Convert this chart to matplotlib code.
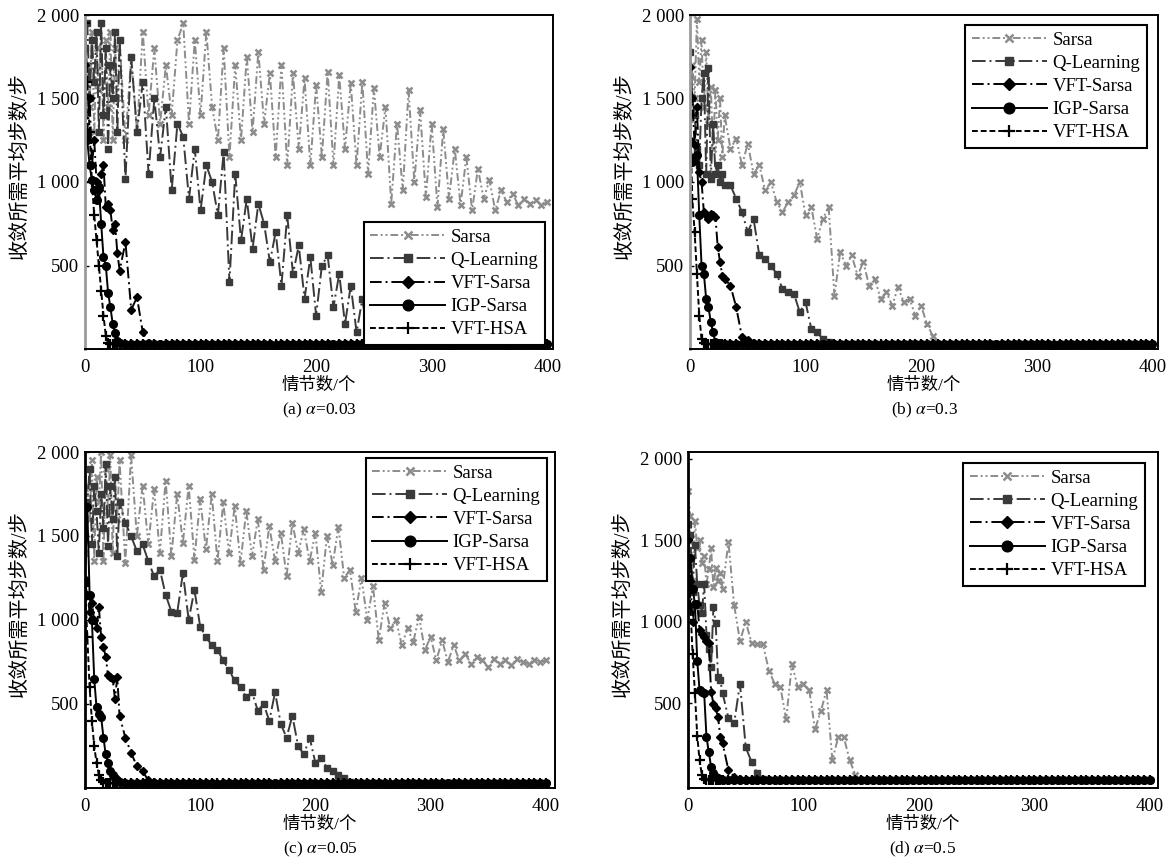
import matplotlib
matplotlib.use("Agg")
import matplotlib.pyplot as plt

plt.rcParams['font.family'] = ['Liberation Serif', 'Noto Sans CJK SC']
plt.rcParams['mathtext.fontset'] = 'stix'

# episodes: every 2 up to 30, then every 5
EP = list(range(0, 31, 2)) + list(range(35, 401, 5))

# ---- (a) alpha = 0.03
sarsa_a = [1300, 1700, 1450, 1900, 1300, 1800, 1550, 1950, 1250, 1850, 1450, 1900, 1250, 1800, 1500, 1850,
           1250, 1750, 1300, 1900, 1400, 1800, 1350, 1700, 1400, 1850,
           1950, 1350, 1850, 1400, 1900, 1450, 1250, 1800, 1150, 1700,
           1250, 1750, 1300, 1780, 1350, 1650, 1150, 1700, 1100, 1650,
           1200, 1620, 1100, 1580, 1150, 1660, 1100, 1640, 1200, 1590,
           1100, 1600, 1050, 1560, 1150, 1450, 870, 1350, 950, 1550,
           1000, 1430, 910, 1350, 850, 1320, 900, 1200, 860, 1150,
           830, 1080, 900, 1010, 830, 950, 880, 930, 860, 900,
           870, 890, 860, 880]
qlearn_a = [1800, 1950, 1500, 1850, 1600, 1900, 1300, 1950, 1400, 1800, 1200, 1700, 1500, 1900, 1300, 1850,
            1020, 1750, 1300, 1600, 1050, 1500, 1150, 1450, 950, 1350,
            1270, 900, 1200, 830, 1100, 1000, 800, 1180, 400, 1050,
            650, 900, 600, 870, 750, 520, 700, 380, 800, 450,
            620, 300, 550, 200, 500, 560, 250, 450, 150, 380,
            100, 300, 60, 150, 40, 120, 30, 60, 30, 29,
            30, 27, 29, 31, 28, 30, 26, 29, 32, 28,
            29, 31, 27, 30, 28, 32, 29, 27, 30, 29,
            29, 27, 30, 28]
vft_sarsa_a = [1700, 1300, 1500, 1100, 1250, 1000, 950, 1050, 1100, 850, 870, 830, 710, 750, 575, 470,
               640, 235, 310, 100, 35, 30, 27, 29, 30, 28,
               29, 31, 27, 30, 28, 32, 29, 27, 30, 29,
               28, 30, 32, 27, 29, 31, 28, 30, 27, 31,
               30, 27, 29, 31, 28, 30, 26, 29, 32, 28,
               29, 31, 27, 30, 28, 32, 29, 27, 30, 29,
               28, 30, 32, 27, 29, 31, 28, 30, 27, 31,
               30, 27, 29, 31, 28, 30, 26, 29, 32, 28,
               29, 27, 30, 28]
igp_a = [1270, 1250, 1100, 1010, 950, 890, 970, 750, 550, 500, 335, 250, 150, 95, 50, 35,
         31, 29, 27, 30, 28, 32, 29, 27, 30, 28,
         28, 30, 32, 27, 29, 31, 28, 30, 27, 31,
         30, 27, 29, 31, 28, 30, 26, 29, 32, 28,
         29, 31, 27, 30, 28, 32, 29, 27, 30, 29,
         28, 30, 32, 27, 29, 31, 28, 30, 27, 31,
         30, 27, 29, 31, 28, 30, 26, 29, 32, 28,
         29, 31, 27, 30, 28, 32, 29, 27, 30, 29,
         29, 27, 30, 28]
vft_hsa_a = [1950, 1600, 1300, 1000, 800, 650, 500, 350, 200, 80, 35, 30, 28, 29, 27, 30,
             30, 27, 29, 31, 28, 30, 26, 29, 32, 28,
             29, 31, 27, 30, 28, 32, 29, 27, 30, 29,
             28, 30, 32, 27, 29, 31, 28, 30, 27, 31,
             30, 27, 29, 31, 28, 30, 26, 29, 32, 28,
             29, 31, 27, 30, 28, 32, 29, 27, 30, 29,
             28, 30, 32, 27, 29, 31, 28, 30, 27, 31,
             30, 27, 29, 31, 28, 30, 26, 29, 32, 28,
             29, 27, 30, 28]

# ---- (b) alpha = 0.3
sarsa_b = [1380, 1700, 1500, 1975, 1600, 1850, 1450, 1780, 1350, 1570, 1200, 1550, 1250, 1500, 1150, 1400,
           1200, 1260, 1100, 1230, 1050, 1100, 950, 1000, 880, 820,
           880, 920, 1000, 800, 850, 660, 780, 850, 320, 580,
           500, 560, 440, 520, 380, 420, 300, 340, 260, 370,
           280, 300, 200, 260, 150, 80, 30, 29, 31, 28,
           30, 27, 29, 31, 28, 30, 26, 29, 32, 28,
           29, 31, 27, 30, 28, 32, 29, 27, 30, 29,
           28, 30, 32, 27, 29, 31, 28, 30, 27, 31,
           29, 27, 30, 28]
qlearn_b = [1780, 1500, 1400, 1200, 1100, 1500, 1650, 1050, 1680, 1020, 1350, 1050, 1100, 1000, 1050, 980,
            980, 900, 820, 700, 780, 560, 540, 500, 450, 360,
            340, 330, 220, 280, 120, 100, 60, 40, 30, 29,
            28, 30, 32, 27, 29, 31, 28, 30, 27, 31,
            30, 27, 29, 31, 28, 30, 26, 29, 32, 28,
            29, 31, 27, 30, 28, 32, 29, 27, 30, 29,
            28, 30, 32, 27, 29, 31, 28, 30, 27, 31,
            30, 27, 29, 31, 28, 30, 26, 29, 32, 28,
            29, 27, 30, 28]
vft_sarsa_b = [1690, 1500, 1220, 1450, 1060, 1000, 820, 800, 780, 810, 800, 790, 610, 520, 440, 420,
               380, 250, 70, 55, 35, 30, 29, 30, 28, 30,
               30, 27, 29, 31, 28, 30, 26, 29, 32, 28,
               29, 31, 27, 30, 28, 32, 29, 27, 30, 29,
               28, 30, 32, 27, 29, 31, 28, 30, 27, 31,
               30, 27, 29, 31, 28, 30, 26, 29, 32, 28,
               29, 31, 27, 30, 28, 32, 29, 27, 30, 29,
               28, 30, 32, 27, 29, 31, 28, 30, 27, 31,
               29, 27, 30, 28]
igp_b = [1245, 1120, 1150, 1160, 800, 500, 450, 300, 250, 160, 100, 40, 30, 29, 31, 28,
         29, 31, 27, 30, 28, 32, 29, 27, 30, 29,
         28, 30, 32, 27, 29, 31, 28, 30, 27, 31,
         30, 27, 29, 31, 28, 30, 26, 29, 32, 28,
         29, 31, 27, 30, 28, 32, 29, 27, 30, 29,
         28, 30, 32, 27, 29, 31, 28, 30, 27, 31,
         30, 27, 29, 31, 28, 30, 26, 29, 32, 28,
         29, 31, 27, 30, 28, 32, 29, 27, 30, 29,
         29, 27, 30, 28]
vft_hsa_b = [1400, 900, 700, 450, 200, 60, 35, 30, 28, 29, 27, 30, 29, 28, 31, 29,
             28, 30, 32, 27, 29, 31, 28, 30, 27, 31,
             30, 27, 29, 31, 28, 30, 26, 29, 32, 28,
             29, 31, 27, 30, 28, 32, 29, 27, 30, 29,
             28, 30, 32, 27, 29, 31, 28, 30, 27, 31,
             30, 27, 29, 31, 28, 30, 26, 29, 32, 28,
             29, 31, 27, 30, 28, 32, 29, 27, 30, 29,
             28, 30, 32, 27, 29, 31, 28, 30, 27, 31,
             29, 27, 30, 28]

# ---- (c) alpha = 0.05
sarsa_c = [1400, 1800, 1600, 1950, 1350, 1850, 1700, 2000, 1350, 1900, 1650, 1980, 1400, 1850, 1600, 1950,
           1340, 1980, 1500, 1800, 1450, 1780, 1400, 1830, 1380, 1750,
           1460, 1800, 1360, 1720, 1420, 1750, 1350, 1700, 1400, 1680,
           1340, 1650, 1380, 1600, 1300, 1560, 1350, 1520, 1260, 1580,
           1400, 1540, 1350, 1520, 1165, 1500, 1330, 1555, 1250, 1300,
           1050, 1250, 1000, 1200, 880, 1100, 950, 1000, 850, 950,
           870, 1020, 820, 900, 760, 880, 750, 850, 760, 800,
           740, 780, 760, 720, 770, 740, 760, 730, 770, 750,
           740, 760, 750, 760]
qlearn_c = [1500, 1700, 1900, 1450, 1800, 1650, 1400, 1750, 1550, 1930, 1440, 1800, 1600, 1850, 1380, 1700,
            1580, 1500, 1410, 1450, 1350, 1260, 1300, 1150, 1050, 1040,
            1280, 1000, 1180, 960, 900, 850, 820, 760, 700, 640,
            600, 540, 570, 460, 500, 400, 570, 380, 300, 430,
            250, 200, 300, 150, 180, 120, 100, 80, 60, 35,
            30, 27, 29, 31, 28, 30, 26, 29, 32, 28,
            29, 31, 27, 30, 28, 32, 29, 27, 30, 29,
            28, 30, 32, 27, 29, 31, 28, 30, 27, 31,
            29, 27, 30, 28]
vft_sarsa_c = [1220, 1150, 1050, 1100, 1000, 950, 1080, 900, 840, 780, 670, 660, 650, 530, 660, 430,
               300, 210, 130, 100, 45, 35, 30, 29, 31, 28,
               29, 31, 27, 30, 28, 32, 29, 27, 30, 29,
               28, 30, 32, 27, 29, 31, 28, 30, 27, 31,
               30, 27, 29, 31, 28, 30, 26, 29, 32, 28,
               29, 31, 27, 30, 28, 32, 29, 27, 30, 29,
               28, 30, 32, 27, 29, 31, 28, 30, 27, 31,
               30, 27, 29, 31, 28, 30, 26, 29, 32, 28,
               29, 27, 30, 28]
igp_c = [1240, 1670, 1150, 1000, 650, 480, 440, 425, 300, 200, 150, 100, 80, 60, 45, 35,
         31, 29, 30, 28, 27, 30, 29, 31, 28, 30,
         30, 27, 29, 31, 28, 30, 26, 29, 32, 28,
         29, 31, 27, 30, 28, 32, 29, 27, 30, 29,
         28, 30, 32, 27, 29, 31, 28, 30, 27, 31,
         30, 27, 29, 31, 28, 30, 26, 29, 32, 28,
         29, 31, 27, 30, 28, 32, 29, 27, 30, 29,
         28, 30, 32, 27, 29, 31, 28, 30, 27, 31,
         29, 27, 30, 28]
vft_hsa_c = [1200, 900, 600, 400, 250, 150, 80, 45, 35, 30, 28, 29, 27, 30, 29, 28,
             29, 31, 27, 30, 28, 32, 29, 27, 30, 29,
             28, 30, 32, 27, 29, 31, 28, 30, 27, 31,
             30, 27, 29, 31, 28, 30, 26, 29, 32, 28,
             29, 31, 27, 30, 28, 32, 29, 27, 30, 29,
             28, 30, 32, 27, 29, 31, 28, 30, 27, 31,
             30, 27, 29, 31, 28, 30, 26, 29, 32, 28,
             29, 31, 27, 30, 28, 32, 29, 27, 30, 29,
             29, 27, 30, 28]

# ---- (d) alpha = 0.5
sarsa_d = [1800, 1650, 1250, 1620, 1450, 1500, 1360, 1400, 1230, 1320, 1450, 1210, 1330, 1250, 1300, 1200,
           1490, 1100, 880, 1000, 870, 860, 860, 700, 620, 600,
           400, 740, 600, 620, 580, 340, 450, 580, 150, 290,
           290, 150, 60, 30, 29, 31, 28, 30, 27, 29,
           30, 27, 29, 31, 28, 30, 26, 29, 32, 28,
           29, 31, 27, 30, 28, 32, 29, 27, 30, 29,
           28, 30, 32, 27, 29, 31, 28, 30, 27, 31,
           30, 27, 29, 31, 28, 30, 26, 29, 32, 28,
           29, 27, 30, 28]
qlearn_d = [1600, 1530, 1180, 1470, 1230, 1100, 1050, 1230, 920, 830, 720, 1090, 990, 660, 640, 560,
            410, 380, 620, 230, 140, 70, 35, 30, 29, 31,
            28, 30, 32, 27, 29, 31, 28, 30, 27, 31,
            30, 27, 29, 31, 28, 30, 26, 29, 32, 28,
            29, 31, 27, 30, 28, 32, 29, 27, 30, 29,
            28, 30, 32, 27, 29, 31, 28, 30, 27, 31,
            30, 27, 29, 31, 28, 30, 26, 29, 32, 28,
            29, 31, 27, 30, 28, 32, 29, 27, 30, 29,
            29, 27, 30, 28]
vft_sarsa_d = [1500, 1250, 1000, 1100, 1110, 950, 927, 907, 880, 866, 570, 498, 470, 416, 294, 253,
               90, 50, 35, 30, 29, 28, 30, 27, 29, 31,
               29, 31, 27, 30, 28, 32, 29, 27, 30, 29,
               28, 30, 32, 27, 29, 31, 28, 30, 27, 31,
               30, 27, 29, 31, 28, 30, 26, 29, 32, 28,
               29, 31, 27, 30, 28, 32, 29, 27, 30, 29,
               28, 30, 32, 27, 29, 31, 28, 30, 27, 31,
               30, 27, 29, 31, 28, 30, 26, 29, 32, 28,
               29, 27, 30, 28]
igp_d = [1270, 1390, 1200, 1110, 760, 580, 570, 560, 294, 200, 110, 70, 50, 40, 33, 30,
         30, 27, 29, 31, 28, 30, 26, 29, 32, 28,
         29, 31, 27, 30, 28, 32, 29, 27, 30, 29,
         28, 30, 32, 27, 29, 31, 28, 30, 27, 31,
         30, 27, 29, 31, 28, 30, 26, 29, 32, 28,
         29, 31, 27, 30, 28, 32, 29, 27, 30, 29,
         28, 30, 32, 27, 29, 31, 28, 30, 27, 31,
         30, 27, 29, 31, 28, 30, 26, 29, 32, 28,
         29, 27, 30, 28]
vft_hsa_d = [1500, 1100, 800, 560, 300, 150, 60, 35, 30, 29, 28, 30, 27, 29, 31, 28,
             28, 30, 32, 27, 29, 31, 28, 30, 27, 31,
             30, 27, 29, 31, 28, 30, 26, 29, 32, 28,
             29, 31, 27, 30, 28, 32, 29, 27, 30, 29,
             28, 30, 32, 27, 29, 31, 28, 30, 27, 31,
             30, 27, 29, 31, 28, 30, 26, 29, 32, 28,
             29, 31, 27, 30, 28, 32, 29, 27, 30, 29,
             28, 30, 32, 27, 29, 31, 28, 30, 27, 31,
             29, 27, 30, 28]

names = ['Sarsa', 'Q-Learning', 'VFT-Sarsa', 'IGP-Sarsa', 'VFT-HSA']
panels = [
    [sarsa_a, qlearn_a, vft_sarsa_a, igp_a, vft_hsa_a],
    [sarsa_b, qlearn_b, vft_sarsa_b, igp_b, vft_hsa_b],
    [sarsa_c, qlearn_c, vft_sarsa_c, igp_c, vft_hsa_c],
    [sarsa_d, qlearn_d, vft_sarsa_d, igp_d, vft_hsa_d],
]
captions = [r'(a) $\alpha$=0.03', r'(b) $\alpha$=0.3', r'(c) $\alpha$=0.05', r'(d) $\alpha$=0.5']
y_ticks = [500, 1000, 1500, 2000]
y_tick_labels = ['500', '1 000', '1 500', '2 000']
x_ticks = [0, 100, 200, 300, 400]

styles = [
    dict(color='#8c8c8c', ls=(0, (4, 1.5, 1, 1.5, 1, 1.5)), marker='x', ms=4.5, mew=1.8),
    dict(color='#3a3a3a', ls=(0, (7, 2, 1, 2)), marker='s', ms=4.5),
    dict(color='black', ls=(0, (6, 2, 1, 2)), marker='D', ms=4.5),
    dict(color='black', ls='-', marker='o', ms=5.5),
    dict(color='black', ls=(0, (3, 1.5)), marker='+', ms=6.5, mew=1.6),
]

W, H = 1171, 864
# axes boxes in pixels: left, top, right, bottom
boxes = [(85, 15, 553, 349), (690, 15, 1158, 349), (85, 452, 555, 788), (688, 452, 1158, 788)]
xlims = [(0, 405), (0, 405), (0, 408), (0, 407)]
ylims = [(0, 2000), (0, 2000), (0, 2000), (-20, 2040)]
legend_anchor = [('lower right', (0.983, 0.012)), ('upper right', (0.976, 0.97)),
                 ('upper right', (0.983, 0.982)), ('upper right', (0.972, 0.967))]
left_spine = ['#9a9a9a', '#9a9a9a', 'black', 'black']

fig = plt.figure(figsize=(W / 100, H / 100), dpi=100)

for k in range(4):
    l, t, r, b = boxes[k]
    ax = fig.add_axes([l / W, 1 - b / H, (r - l) / W, (b - t) / H])
    for s, name, ys in zip(styles, names, panels[k]):
        assert len(ys) == len(EP)
        ax.plot(EP, ys, label=name, lw=1.4, **s)
    ax.set_xlim(*xlims[k])
    ax.set_ylim(*ylims[k])
    ax.set_xticks(x_ticks)
    ax.set_yticks(y_ticks)
    ax.set_yticklabels(y_tick_labels)
    ax.tick_params(axis='y', direction='in', length=3, width=1, pad=4, labelsize=13.5)
    ax.tick_params(axis='x', length=0, pad=7, labelsize=13.5)
    for sp in ax.spines.values():
        sp.set_linewidth(1.4)
        sp.set_color('black')
    ax.spines['left'].set_color(left_spine[k])
    ax.spines['left'].set_linewidth(2)
    h = b - t
    ax.set_ylabel('收敛所需平均步数/步', fontsize=14.5)
    ax.yaxis.set_label_coords(-55 / (r - l), 0.55)
    ax.text(0.5, -37 / h, '情节数/个', transform=ax.transAxes, ha='center', va='center', fontsize=12.5)
    ax.text(0.5, -61 / h, captions[k], transform=ax.transAxes, ha='center', va='center', fontsize=12.5)
    loc, anchor = legend_anchor[k]
    leg = ax.legend(loc=loc, bbox_to_anchor=anchor, borderaxespad=0, fontsize=13.5,
                    handlelength=4.0, handletextpad=0.3, labelspacing=0.32, borderpad=0.35,
                    fancybox=False, framealpha=1, edgecolor='black', markerscale=1.4)
    leg.get_frame().set_linewidth(1.5)

fig.savefig('out.png', dpi=100)
